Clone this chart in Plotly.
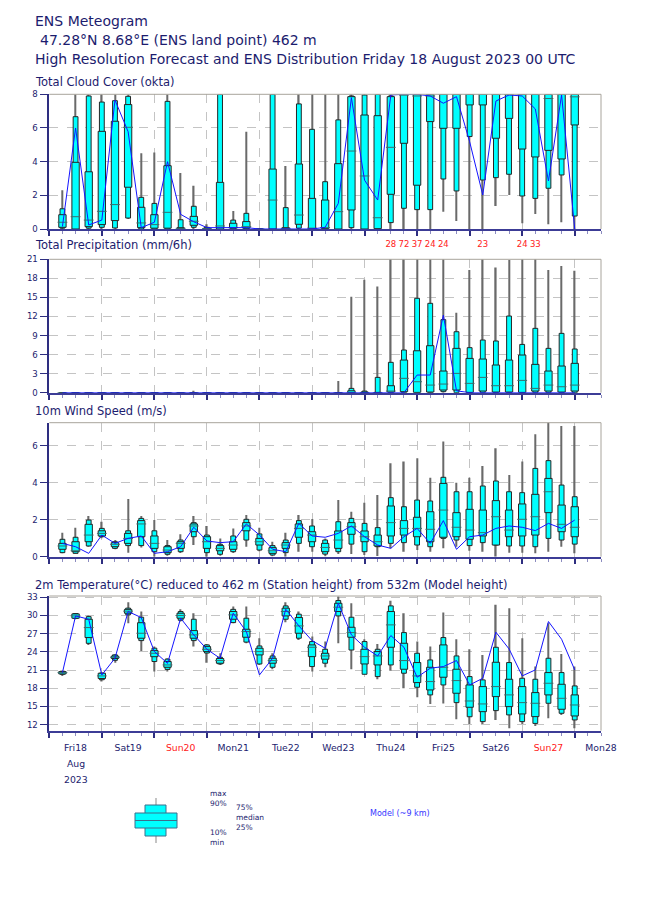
import plotly.graph_objects as go

# ---------------- data (step = 6 h, from +6 h to +240 h) ----------------
hours = [6 * k for k in range(1, 41)]

day_labels = ["Fri18", "Sat19", "Sun20", "Mon21", "Tue22", "Wed23", "Thu24", "Fri25", "Sat26", "Sun27", "Mon28"]
red_days = ["Sun20", "Sun27"]

# Total cloud cover (okta)
cc_min = [0, 0, 0, 0, 0, 0.6, 0, 0, 0, 0, 0, 0, 0, 0, 0, 0, 0, 0, 0, 0,
          0, 0, 0, 0, 0, 0, 0, 0, 0, 1.03, 0.48, 0, 0, 1.37, 2.02, 0.34, 0.89, 0.28, 0.4, 0]
cc_p10 = [0.05, 0, 0.05, 0.1, 0.06, 0.65, 0, 0, 0, 0, 0.1, 0, 0, 0, 0, 0, 0, 0, 0.05, 0,
          0, 0, 0.08, 0, 0, 0.38, 1.23, 1.15, 1.15, 2.97, 2.26, 5.49, 2.91, 3.05, 3.25, 1.96, 1.82, 2.42, 3.21, 0.77]
cc_p25 = [0.1, 0, 0.14, 0.26, 0.5, 2.48, 0.08, 0.05, 0.05, 0.02, 0.22, 0, 0, 0.05, 0.05, 0, 0, 0.02, 0.28, 0.02,
          0.02, 0, 1.13, 0, 0.02, 2.06, 5.09, 2.6, 6.38, 5.98, 5.98, 7.37, 7.37, 5.39, 6.57, 4.75, 4.28, 4.67, 4.16, 6.18]
cc_med = [0.4, 0.73, 0.53, 1.05, 1.45, 6.04, 0.36, 0.26, 0.99, 0.04, 0.46, 0.02, 0.18, 0.08, 0.14, 0, 1.72, 0.04, 0.83, 0.05,
          0.08, 1.03, 4.63, 3.15, 0.67, 4.85, 7.95, 7.9, 7.9, 8, 8, 8, 8, 8, 8, 8, 8, 7.75, 8, 7.85]
cc_p75 = [0.85, 3.96, 3.4, 5.8, 6.4, 7.39, 1.29, 0.85, 3.76, 0.08, 0.75, 0.05, 2.77, 0.34, 0.44, 0, 3.56, 0.08, 3.86, 1.82,
          1.72, 3.88, 7.86, 6.77, 6.73, 7.86, 8, 8, 8, 8, 8, 8, 8, 8, 8, 8, 8, 8, 8, 8]
cc_p90 = [1.2, 6.67, 7.9, 7.54, 7.62, 7.88, 1.88, 1.52, 7.58, 0.55, 1.35, 0.1, 8, 0.53, 0.93, 0, 8, 1.27, 7.43, 5.92,
          2.81, 6.48, 7.9, 7.96, 8, 7.9, 8, 8, 8, 8, 8, 8, 8, 8, 8, 8, 8, 8, 8, 8]
cc_max = [2.3, 8, 8, 8, 8, 8, 4.5, 4.55, 8, 3.33, 2.57, 0.28, 8, 1.07, 5.78, 0, 8, 3.74, 8, 8,
          8, 8, 8, 8, 8, 8, 8, 8, 8, 8, 8, 8, 8, 8, 8, 8, 8, 8, 8, 8]
cc_hres = [0.15, 6.0, 0.24, 0.53, 7.66, 5.78, 0.08, 0.4, 4.0, 0.87, 0.43, 0.08, 0.08, 0.08, 0.08, 0, 0, 0, 0, 0,
           0.1, 1.52, 7.8, 2.9, 1.72, 7.96, 8, 8, 7.9, 7.47, 7.86, 5.19, 2.02, 7.6, 7.96, 7.9, 7.13, 2.85, 7.96, 0]

# Total precipitation (mm/6h)
pr_min = [0] * 40
pr_p10 = [0] * 29 + [0.16] + [0] * 10
pr_p25 = [0] * 25 + [0.1, 0.16, 0.05, 0.1, 0.42, 0.42, 0.05, 0.26, 0.1, 0.1, 0.05, 0.26, 0.26, 0.1, 0.26]
pr_med = [0] * 25 + [0.26, 2.26, 1.73, 1.2, 1.36, 3.04, 1.47, 2.41, 1.1, 1.1, 1.94, 0.68, 1.2, 0.94, 1.2]
pr_p75 = [0] * 22 + [0.3, 0.1, 0.05, 1.1, 5.14, 6.6, 7.4, 3.41, 6.98, 5.4, 5.3, 4.36, 5.14, 5.93, 4.46, 3.41, 4.2, 4.62]
pr_p90 = [0] * 22 + [0.68, 0.26, 2.41, 4.78, 6.72, 14.86, 14.07, 11.5, 9.6, 7.09, 8.29, 8.14, 12.07, 7.6, 10.13, 6.98, 9.34, 6.88]
pr_max = [0] * 10 + [0.3] + [0] * 10 + [1.84, 15.1, 17.8, 16.7, 28, 72, 37, 24, 24, 12.6, 19.3, 23, 19.7, 20.9, 24, 33, 19.3, 19.95, 19.2]
pr_hres = [0] * 27 + [2.78, 2.78, 12.2, 0.3] + [0] * 9

# 10 m wind speed (m/s)
wd_min = [0.18, 0.18, 0.54, 1.0, 0.4, 0.22, 0.5, 0, 0.05, 0.2, 0.63, 0, 0.05, 0.2, 0.54, 0.3, 0.02, 0, 0.27, 0.27,
          0.02, 0.14, 0.14, 0.09, 0.04, 0.45, 0.27, 0.36, 0.27, 0.45, 0.54, 0.32, 0.27, 0, 0.22, 0.22, 0.18, 0.27, 0.54, 0.18]
wd_p10 = [0.22, 0.18, 0.58, 1.08, 0.45, 0.6, 0.6, 0.27, 0.13, 0.27, 1.08, 0.22, 0.13, 0.27, 0.9, 0.36, 0.09, 0.22, 0.72, 0.54,
          0.14, 0.27, 0.68, 0.27, 0.54, 0.72, 0.76, 0.63, 0.54, 0.99, 0.9, 0.6, 0.76, 0.63, 0.58, 0.58, 0.54, 0.99, 0.9, 0.68]
wd_p25 = [0.4, 0.27, 0.81, 1.12, 0.54, 0.72, 1.08, 0.45, 0.22, 0.45, 1.35, 0.45, 0.32, 0.4, 1.4, 0.63, 0.18, 0.45, 1.05, 0.81,
          0.27, 0.45, 1.21, 0.81, 0.58, 1.12, 1.17, 1.08, 0.81, 1.05, 1.08, 0.94, 1.12, 0.63, 1.08, 1.12, 1.17, 2.38, 1.35, 1.08]
wd_med = [0.58, 0.32, 1.17, 1.26, 0.67, 0.99, 1.77, 0.72, 0.36, 0.72, 1.66, 0.81, 0.45, 0.63, 1.66, 0.81, 0.32, 0.63, 1.53, 1.17,
          0.5, 0.9, 1.62, 1.08, 0.81, 1.84, 1.53, 1.53, 1.48, 2.52, 1.59, 1.44, 1.3, 2.16, 1.44, 2.02, 2.16, 3.51, 1.75, 1.59]
wd_p75 = [0.72, 0.81, 1.75, 1.4, 0.76, 1.26, 1.95, 1.12, 0.54, 0.81, 1.77, 1.08, 0.6, 0.81, 1.84, 0.99, 0.49, 0.76, 1.77, 1.35,
          0.72, 1.39, 1.84, 1.39, 1.17, 2.74, 1.95, 2.13, 2.43, 3.96, 2.38, 2.56, 2.52, 3.03, 2.52, 2.85, 3.37, 4.23, 2.79, 2.7]
wd_p90 = [0.94, 1.05, 1.98, 1.53, 0.81, 1.4, 2.07, 1.4, 0.6, 0.9, 1.84, 1.17, 0.67, 1.12, 2.02, 1.23, 0.6, 0.9, 1.95, 1.66,
          0.9, 1.89, 2.07, 1.8, 1.57, 3.19, 2.7, 3.06, 3.01, 4.29, 3.51, 3.51, 3.82, 4.09, 3.51, 3.46, 4.77, 5.19, 3.87, 3.24]
wd_max = [1.3, 1.57, 2.2, 1.89, 0.9, 3.12, 2.2, 1.98, 0.9, 1.21, 2.2, 1.66, 0.99, 1.53, 2.25, 1.57, 0.81, 1.3, 2.25, 2.04,
          0.99, 3.06, 2.43, 2.92, 3.33, 5.05, 5.14, 5.32, 4.27, 6.22, 4.0, 4.27, 4.9, 5.86, 4.41, 5.14, 6.61, 7.3, 7.06, 7.06]
wd_hres = [0.72, 0.54, 0.18, 1.17, 0.72, 0.99, 1.12, 0.18, 0.27, 0.54, 1.59, 0.85, 0.76, 0.81, 1.77, 1.17, 0.4, 0.27, 1.8, 1.12,
           1.05, 1.26, 1.66, 1.08, 0.63, 0.45, 1.08, 1.53, 0.72, 1.95, 0.4, 1.08, 1.17, 1.53, 1.66, 1.59, 1.41, 1.8, 1.53, 1.98]

# 2 m temperature (deg C)
t_min = [20.03, 29.37, 25.14, 19.1, 22.2, 28.7, 24.15, 20.74, 20.74, 28.99, 24.86, 22.2, 21.84, 28.71, 25.41, 21.84, 21.13, 28.88, 25.96, 20.74,
         21.45, 25.41, 21.13, 20.3, 19.48, 20.9, 18.0, 16.5, 15.4, 15.5, 12.88, 12.1, 12.1, 12.77, 11.4, 12.1, 11.78, 13.04, 13.6, 11.4]
t_p10 = [20.3, 29.5, 25.4, 19.4, 22.6, 30.1, 25.85, 22.4, 21.1, 29.2, 25.85, 23.8, 22.0, 28.82, 25.6, 22.0, 21.45, 29.37, 26.24, 21.57,
         22.12, 29.92, 24.3, 20.3, 19.92, 21.84, 20.47, 18.16, 16.9, 18.54, 15.63, 13.3, 12.5, 14.31, 13.6, 12.5, 12.2, 15.52, 13.87, 12.77]
t_p25 = [20.36, 29.54, 26.35, 19.6, 22.9, 30.36, 26.24, 23.2, 21.45, 29.54, 26.24, 24.04, 22.12, 29.37, 26.4, 23.49, 22.12, 29.92, 27.06, 23.21,
         22.78, 30.64, 26.4, 22.0, 21.84, 24.75, 21.13, 18.93, 17.72, 19.81, 17.17, 14.86, 14.14, 16.62, 14.97, 13.76, 13.32, 16.9, 14.53, 13.43]
t_med = [20.58, 29.92, 28.0, 20.03, 23.1, 30.7, 27.06, 23.76, 21.84, 29.98, 26.79, 24.42, 22.56, 30.09, 27.34, 24.04, 22.56, 30.64, 28.27, 24.75,
         23.32, 31.35, 27.17, 23.21, 23.32, 28.44, 22.56, 20.03, 19.1, 21.45, 19.26, 15.9, 15.41, 18.27, 16.9, 15.63, 15.52, 18.82, 16.34, 15.24]
t_p75 = [20.74, 30.25, 29.37, 20.47, 23.3, 31.0, 28.8, 24.2, 22.4, 30.36, 27.5, 24.86, 22.9, 30.64, 27.72, 24.59, 22.94, 31.19, 29.65, 25.14,
         23.76, 32.0, 28.05, 24.42, 24.04, 30.64, 25.41, 22.23, 21.45, 25.14, 21.13, 18.54, 18.27, 22.28, 19.48, 18.27, 17.28, 20.58, 18.65, 16.9]
t_p90 = [20.8, 30.3, 29.8, 20.5, 23.5, 31.2, 29.7, 24.6, 22.8, 30.64, 29.37, 25.14, 23.1, 31.0, 29.54, 24.97, 23.32, 31.57, 30.2, 25.69,
         24.42, 32.45, 29.7, 25.69, 24.42, 31.57, 27.17, 23.76, 22.66, 26.35, 23.32, 19.92, 19.37, 24.75, 22.23, 19.64, 19.48, 22.94, 20.58, 18.38]
t_max = [20.9, 30.36, 29.98, 20.58, 23.65, 32.18, 30.64, 24.86, 22.94, 31.0, 30.36, 25.3, 23.76, 31.46, 31.46, 26.24, 23.76, 32.18, 30.64, 26.51,
         25.69, 33.1, 32.0, 26.07, 25.3, 32.4, 30.36, 25.69, 24.86, 30.47, 26.07, 24.42, 23.49, 31.74, 31.19, 26.24, 21.57, 28.71, 23.65, 21.57]
t_hres = [20.58, 29.92, 29.37, 20.19, 22.94, 30.64, 29.65, 24.04, 22.1, 29.54, 26.79, 24.42, 22.94, 30.36, 27.34, 20.19, 22.94, 31.02, 28.27, 25.85,
          24.59, 32.0, 26.79, 24.75, 23.32, 26.68, 24.75, 19.81, 21.3, 21.57, 22.56, 18.54, 19.64, 27.23, 24.48, 20.03, 21.02, 28.99, 26.07, 21.02]

# ---------------- styling ----------------
OFF = 8            # default page margin around the plot div
W, H = 650 - 2 * OFF, 916 - 2 * OFF   # figure fits the window exactly
NAVY = "#1c1c6e"
AXIS = "#2e2e80"
GRID = "#c4c4c4"
BORDER = "#a8a49c"
CYAN = "#00ffff"
EDGE = "#262626"
FONT = "DejaVu Sans"


def px(x):
    return (x - OFF) / W


def py(y):
    return 1 - (y - OFF) / H


X0, X1 = 49.3, 601.0
panels = [  # (top px, bottom px, y-range, tickvals, title, title y px)
    (94.3, 229.0, [0, 8], [0, 2, 4, 6, 8], "Total Cloud Cover (okta)", 82),
    (259.3, 392.7, [0, 21], [0, 3, 6, 9, 12, 15, 18, 21], "Total Precipitation (mm/6h)", 245),
    (422.7, 556.7, [0, 7.24], [0, 2, 4, 6], "10m Wind Speed (m/s)", 411),
    (596.0, 730.7, [11.0, 33.2], [12, 15, 18, 21, 24, 27, 30, 33],
     "2m Temperature(°C) reduced to 462 m (Station height) from 532m (Model height)", 585),
]
series = [
    (cc_min, cc_p10, cc_p25, cc_med, cc_p75, cc_p90, cc_max, cc_hres),
    (pr_min, pr_p10, pr_p25, pr_med, pr_p75, pr_p90, pr_max, pr_hres),
    (wd_min, wd_p10, wd_p25, wd_med, wd_p75, wd_p90, wd_max, wd_hres),
    (t_min, t_p10, t_p25, t_med, t_p75, t_p90, t_max, t_hres),
]

WHISK_W = 0.62  # hours
WIDE_W = 3.35
NARROW_W = 2.2

fig = go.Figure()
layout = dict(
    width=W, height=H, margin=dict(l=0, r=0, t=0, b=0, autoexpand=False),
    paper_bgcolor="white", plot_bgcolor="white", showlegend=False,
    barmode="overlay", font=dict(family=FONT, color=NAVY),
)
annotations = []
shapes = []

six = [v for v in range(6, 253, 6) if v % 24 != 0]
six_text = []
for v in six:
    if v % 24 == 12:
        lab = day_labels[v // 24]
        if lab in red_days:
            lab = "<span style='color:#ff2020'>" + lab + "</span>"
        six_text.append(lab)
    else:
        six_text.append("")
days = [24 * d for d in range(0, 11)]

for i, ((top, bot, yr, ytv, title, ty), s) in enumerate(zip(panels, series)):
    n = i + 1
    xa = "x" if n == 1 else f"x{n}"
    ya = "y" if n == 1 else f"y{n}"
    mn, p10, p25, med, p75, p90, mx, hres = s

    # whiskers (min-max) as thin bars so that the boxes cover them
    fig.add_trace(go.Bar(x=hours, y=[b - a for a, b in zip(mn, mx)], base=mn, width=WHISK_W,
                         marker=dict(color="#6a6a6a", line=dict(width=0)),
                         xaxis=xa, yaxis=ya, hoverinfo="skip"))
    fig.add_trace(go.Bar(x=hours, y=[b - a for a, b in zip(p10, p90)], base=p10, width=NARROW_W,
                         marker=dict(color=CYAN, line=dict(color=EDGE, width=1)),
                         xaxis=xa, yaxis=ya))
    fig.add_trace(go.Bar(x=hours, y=[b - a for a, b in zip(p25, p75)], base=p25, width=WIDE_W,
                         marker=dict(color=CYAN, line=dict(color=EDGE, width=1)),
                         xaxis=xa, yaxis=ya))
    fig.add_trace(go.Scatter(x=hours, y=med, mode="markers",
                             marker=dict(symbol="line-ew", size=7, line=dict(color="#3a6e6e", width=1)),
                             xaxis=xa, yaxis=ya, cliponaxis=True))
    fig.add_trace(go.Scatter(x=hours, y=hres, mode="lines", line=dict(color="#1414ff", width=1),
                             xaxis=xa, yaxis=ya))

    if n == 2:
        over = [(h, m) for h, m in zip(hours, mx) if m > yr[1]]
        fig.add_trace(go.Scatter(x=[h for h, _ in over], y=[yr[1]] * len(over),
                                 text=[str(int(round(m))) for _, m in over], mode="markers+text",
                                 marker=dict(size=14, color="rgba(0,0,0,0)"),
                                 textposition="top center", cliponaxis=False,
                                 textfont=dict(color="#ff2020", size=8.5, family=FONT),
                                 xaxis=xa, yaxis=ya))

    dom_x = [px(X0), px(X1)]
    dom_y = [py(bot), py(top)]
    layout["xaxis" if n == 1 else f"xaxis{n}"] = dict(
        domain=dom_x, range=[0, 252], anchor=ya, automargin=False,
        tickmode="array", tickvals=six, ticktext=six_text,
        showticklabels=(n == 4), ticks="outside", ticklen=3, tickwidth=1, tickcolor="#8c8cc0",
        tickfont=dict(size=9.3, color=NAVY, family=FONT), ticklabelstandoff=4,
        showgrid=False, zeroline=False,
        showline=True, linecolor="#3c3c96", linewidth=2,
        minor=dict(tickmode="array", tickvals=days, ticks="outside", ticklen=5, tickwidth=1.5,
                   tickcolor="#2e2e80", showgrid=True, gridcolor=GRID, griddash="dash", gridwidth=1),
        fixedrange=True,
    )
    layout["yaxis" if n == 1 else f"yaxis{n}"] = dict(
        domain=dom_y, range=yr, anchor=xa, automargin=False, tickmode="array", tickvals=ytv,
        ticks="outside", ticklen=8, tickwidth=1, tickcolor=AXIS,
        tickfont=dict(size=8.6, color=NAVY, family=FONT),
        showgrid=True, gridcolor=GRID, griddash="dash", gridwidth=1, zeroline=False,
        showline=True, linecolor=AXIS, linewidth=1.5, fixedrange=True,
    )
    # grey top/right frame
    shapes.append(dict(type="line", xref=f"{xa} domain", yref=f"{ya} domain", x0=0, x1=1, y0=1, y1=1,
                       line=dict(color=BORDER, width=1)))
    shapes.append(dict(type="line", xref=f"{xa} domain", yref=f"{ya} domain", x0=1, x1=1, y0=0, y1=1,
                       line=dict(color=BORDER, width=1)))
    annotations.append(dict(text=title, x=px(33), y=py(ty), xref="paper", yref="paper",
                            xanchor="left", yanchor="middle", showarrow=False,
                            font=dict(size=11.5, color=NAVY, family=FONT)))

# header
for txt, yy, xx in [("ENS Meteogram", 21, 33),
                    ("47.28°N 8.68°E (ENS land point) 462 m", 40, 37.5),
                    ("High Resolution Forecast and ENS Distribution Friday 18 August 2023 00 UTC", 59, 33)]:
    annotations.append(dict(text=txt, x=px(xx), y=py(yy), xref="paper", yref="paper",
                            xanchor="left", yanchor="middle", showarrow=False,
                            font=dict(size=14, color=NAVY, family=FONT)))

# month / year under first day
for txt, yy in [("Aug", 763), ("2023", 779)]:
    annotations.append(dict(text=txt, x=12, xref="x4", y=py(yy), yref="paper",
                            xanchor="center", yanchor="middle", showarrow=False,
                            font=dict(size=9.3, color=NAVY, family=FONT)))

# legend glyph (pixel coordinates)
shapes += [
    dict(type="line", xref="paper", yref="paper", x0=px(156), x1=px(156), y0=py(798), y1=py(843),
         line=dict(color="#b0b0b0", width=1.5)),
    dict(type="rect", xref="paper", yref="paper", x0=px(145), x1=px(166), y0=py(805), y1=py(836),
         fillcolor=CYAN, line=dict(color="#3c6e8c", width=1)),
    dict(type="rect", xref="paper", yref="paper", x0=px(135), x1=px(177), y0=py(813), y1=py(828),
         fillcolor=CYAN, line=dict(color="#3c6e8c", width=1)),
    dict(type="line", xref="paper", yref="paper", x0=px(135), x1=px(177), y0=py(820.5), y1=py(820.5),
         line=dict(color="#3c6e8c", width=1)),
]
for txt, xx, yy in [("max<br>90%", 208, 798), ("75%<br>median<br>25%", 234, 817), ("10%<br>min", 208, 837)]:
    annotations.append(dict(text=txt, x=px(xx), y=py(yy), xref="paper", yref="paper",
                            xanchor="left", yanchor="middle", align="left", showarrow=False,
                            font=dict(size=7.5, color=NAVY, family=FONT)))
annotations.append(dict(text="Model (~9 km)", x=px(368), y=py(813), xref="paper", yref="paper",
                        xanchor="left", yanchor="middle", showarrow=False,
                        font=dict(size=8, color="#3535ff", family=FONT)))

layout["annotations"] = annotations
layout["shapes"] = shapes
fig.update_layout(**layout)
fig.write_html("out.html")
